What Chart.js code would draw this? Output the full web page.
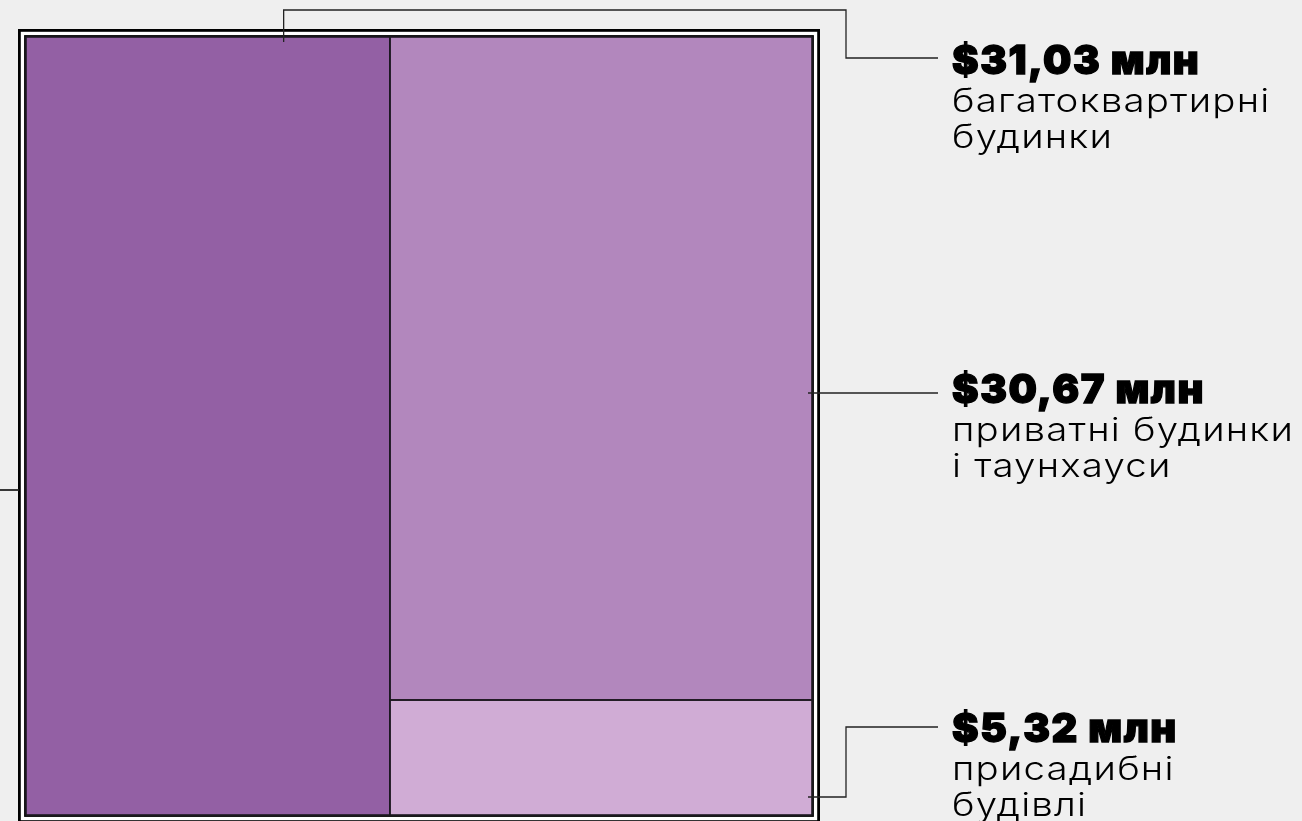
<!DOCTYPE html>
<html>
<head>
<meta charset="utf-8">
<script src="https://cdn.jsdelivr.net/npm/chart.js@4"></script>
<style>
  html, body { margin: 0; padding: 0; background: #efefef; overflow: hidden; }
  #wrap { position: relative; width: 1302px; height: 821px; }
  canvas { position: absolute; left: 0; top: 0; }
  .label { position: absolute; left: 952px; color: #000; }
  .label .value { font-family: Inter, sans-serif; font-weight: 900; font-size: 40px; line-height: 40px;
                  letter-spacing: 1.5px; -webkit-text-stroke: 1.3px #000; white-space: nowrap; }
  .label .name { font-family: Inter, sans-serif; font-weight: 300; font-size: 32px; line-height: 36px; margin-top: 3px;
                 letter-spacing: 1px; white-space: nowrap; transform: scaleX(1.2); transform-origin: 0 0; }
</style>
</head>
<body>
<div id="wrap">
  <canvas id="treeChart" width="1302" height="821"></canvas>
</div>
<script>
// Data
const categories = ['багатоквартирні будинки', 'приватні будинки і таунхауси', 'присадибні будівлі'];
const nameLines = [['багатоквартирні', 'будинки'], ['приватні будинки', 'і таунхауси'], ['присадибні', 'будівлі']];
const values = [31.03, 30.67, 5.32];
const valueLabels = ['$31,03 млн', '$30,67 млн', '$5,32 млн'];
const colors = ['#9360a4', '#b287bd', '#d0acd5'];

const total = values.reduce((a, b) => a + b, 0);
const rightTotal = values[1] + values[2];

// treemap cells in value space: first item fills the left column,
// the other two share the right column
function cells() {
    return [
        { x0: 0, x1: values[0], y0: 0, y1: 1 },
        { x0: values[0], x1: total, y0: values[2] / rightTotal, y1: 1 },
        { x0: values[0], x1: total, y0: 0, y1: values[2] / rightTotal }
    ];
}

function rectPx(chart, c) {
    const xs = chart.scales.x, ys = chart.scales.y;
    return {
        l: xs.getPixelForValue(c.x0), r: xs.getPixelForValue(c.x1),
        t: ys.getPixelForValue(c.y1), b: ys.getPixelForValue(c.y0)
    };
}

const treemapPlugin = {
    id: 'treemapRects',
    beforeDatasetsDraw(chart) {
        const ctx = chart.ctx;
        const a = chart.chartArea;
        ctx.save();
        // double frame
        ctx.fillStyle = '#ffffff';
        ctx.fillRect(a.left - 7, a.top - 7, a.right - a.left + 14, a.bottom - a.top + 14);
        ctx.strokeStyle = '#000';
        ctx.lineWidth = 2.8;
        ctx.strokeRect(a.left - 6.6, a.top - 6.6, a.right - a.left + 13.2, a.bottom - a.top + 13.2);
        ctx.lineWidth = 1.8;
        ctx.strokeRect(a.left - 1, a.top - 1, a.right - a.left + 2, a.bottom - a.top + 2);

        cells().forEach((c, i) => {
            const p = rectPx(chart, c);
            ctx.fillStyle = colors[i];
            ctx.fillRect(p.l, p.t, p.r - p.l, p.b - p.t);
        });
        ctx.strokeStyle = '#1c1820';
        ctx.lineWidth = 1.6;
        cells().forEach((c, i) => {
            const p = rectPx(chart, c);
            ctx.strokeRect(p.l, p.t, p.r - p.l, p.b - p.t);
        });
        ctx.restore();
    },
    afterDraw(chart) {
        const ctx = chart.ctx;
        const a = chart.chartArea;
        const [c0, c1, c2] = cells().map(c => rectPx(chart, c));
        ctx.save();
        ctx.strokeStyle = '#222';
        ctx.lineWidth = 1.3;
        const path = pts => {
            ctx.beginPath();
            ctx.moveTo(pts[0][0], pts[0][1]);
            pts.slice(1).forEach(p => ctx.lineTo(p[0], p[1]));
            ctx.stroke();
        };
        const elbowX = 846, endX = 938;
        // left column label (top)
        const lx = c0.l + (c0.r - c0.l) * 0.708;
        path([[lx, c0.t + 5], [lx, 10], [elbowX, 10], [elbowX, 58], [endX, 58]]);
        // right top
        path([[c1.r - 4, 393], [endX, 393]]);
        // right bottom
        path([[c2.r - 4, 797], [elbowX, 797], [elbowX, 727], [endX, 727]]);
        // stub to the left edge
        ctx.lineWidth = 1.8;
        path([[0, 490], [a.left - 7, 490]]);
        ctx.restore();
    }
};

new Chart(document.getElementById('treeChart'), {
    type: 'scatter',
    data: { datasets: [] },
    options: {
        responsive: false,
        animation: false,
        layout: { padding: { left: 26, top: 37, right: 490, bottom: 6 } },
        plugins: { legend: { display: false }, tooltip: { enabled: false } },
        scales: {
            x: { type: 'linear', min: 0, max: total, display: false },
            y: { type: 'linear', min: 0, max: 1, display: false }
        }
    },
    plugins: [treemapPlugin]
});

// labels as html text
const labelTops = [39.5, 368.5, 707.5];
const wrap = document.getElementById('wrap');
valueLabels.forEach((v, i) => {
    const div = document.createElement('div');
    div.className = 'label';
    div.style.top = labelTops[i] + 'px';
    div.innerHTML = `<div class="value">${v}</div><div class="name">${nameLines[i].join('<br>')}</div>`;
    div.title = categories[i];
    wrap.appendChild(div);
});
</script>
</body>
</html>
